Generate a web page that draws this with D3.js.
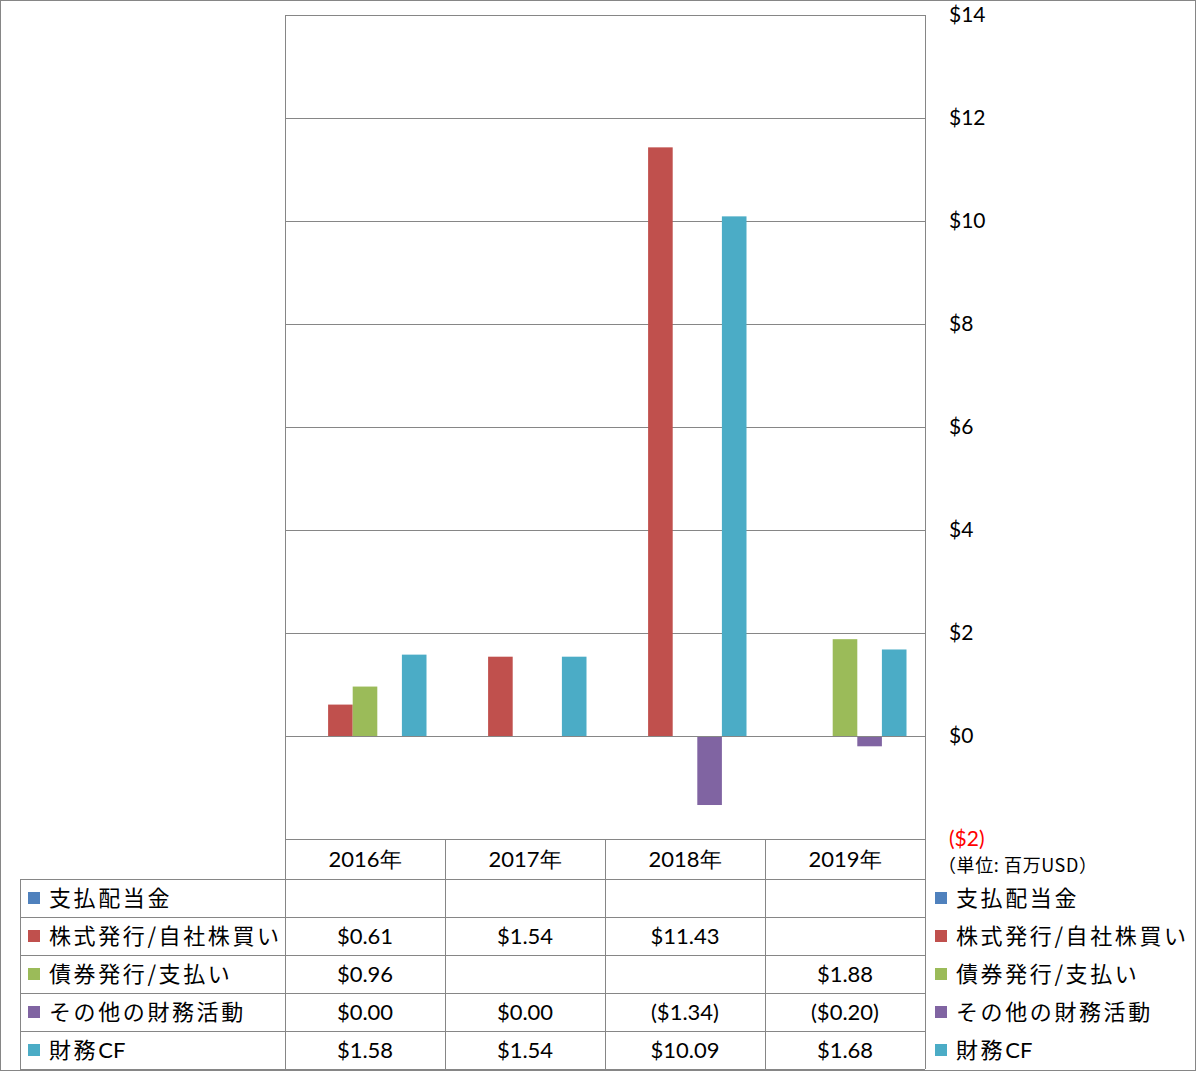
<!DOCTYPE html>
<html><head><meta charset="utf-8">
<script src="https://cdn.jsdelivr.net/npm/d3@7"></script>
<style>
html,body{margin:0;padding:0;background:#fff;}
svg{display:block;}
</style></head>
<body>
<svg id="c" width="1196" height="1071"></svg>
<script>
const years = ["2016年","2017年","2018年","2019年"];
const seriesNames = ["支払配当金","株式発行/自社株買い","債券発行/支払い","その他の財務活動","財務CF"];
const seriesColors = ["#4F81BD","#C0504D","#9BBB59","#8064A2","#4BACC6"];
const dividends = [null,null,null,null];
const equity = [0.61,1.54,11.43,null];
const debt = [0.96,null,null,1.88];
const other = [0.00,0.00,-1.34,-0.20];
const financingCF = [1.58,1.54,10.09,1.68];
const yTicks = [-2,0,2,4,6,8,10,12,14];
const unitLabel = "（単位: 百万USD）";

const seriesValues = [dividends,equity,debt,other,financingCF];

const svg = d3.select("#c");
const latin = "Lato, 'Open Sans', sans-serif";
const cjk = "'Noto Sans CJK JP', sans-serif";
const gridCol = "#868686";

const plotL = 285, plotR = 925, plotT = 15, plotB = 839;
const x0 = d3.scaleBand().domain(years).range([plotL, plotR]).padding(0);
const x1 = d3.scaleBand().domain(seriesNames).range([18.5, x0.bandwidth()-18.5]).padding(0);
const y = d3.scaleLinear().domain([-2,14]).range([plotB, plotT]);

// outer border
svg.append("rect").attr("x",0.5).attr("y",0.5).attr("width",1195).attr("height",1070)
  .attr("fill","none").attr("stroke",gridCol);

// gridlines
svg.append("g").selectAll("line").data(yTicks).join("line")
  .attr("x1",plotL).attr("x2",plotR)
  .attr("y1",d=>Math.round(y(d))+0.5).attr("y2",d=>Math.round(y(d))+0.5)
  .attr("stroke",gridCol).attr("stroke-width",1);

// bars
const fmt = v => v < 0 ? "($" + Math.abs(v).toFixed(2) + ")" : "$" + v.toFixed(2);
const barG = svg.append("g");
seriesNames.forEach((s,si)=>{
  barG.append("g").attr("fill",seriesColors[si]).selectAll("rect")
    .data(seriesValues[si].map((v,i)=>({v, yr:years[i]})).filter(d=>d.v!==null && d.v!==0))
    .join("rect")
    .attr("x",d=>x0(d.yr)+x1(s))
    .attr("width",x1.bandwidth())
    .attr("y",d=>y(Math.max(0,d.v)))
    .attr("height",d=>Math.abs(y(d.v)-y(0)));
});
// zero line over bars
svg.append("line").attr("x1",plotL).attr("x2",plotR)
  .attr("y1",Math.round(y(0))+0.5).attr("y2",Math.round(y(0))+0.5)
  .attr("stroke",gridCol);

// right axis
const axis = d3.axisRight(y).tickValues(yTicks).tickSize(0).tickPadding(24)
  .tickFormat(d => d<0 ? "($"+Math.abs(d)+")" : "$"+d);
const ag = svg.append("g").attr("transform",`translate(${plotR},0)`).call(axis);
ag.select(".domain").remove();
ag.selectAll("text").attr("font-family",latin).attr("font-size",21)
  .attr("fill",d=>d<0?"#FF0000":"#000");

// unit label
svg.append("text").attr("x",938).attr("y",866).attr("dy","0.35em")
  .attr("font-family",cjk).attr("font-size",18).attr("letter-spacing",0.6).attr("fill","#000").text(unitLabel);

// table lines
const rowH = 38;
const tableTop = 879;
const tl = svg.append("g").attr("stroke",gridCol).attr("stroke-width",1);
[plotL, plotR].forEach(xv=>{
  tl.append("line").attr("x1",xv+0.5).attr("x2",xv+0.5).attr("y1",plotT).attr("y2",tableTop+rowH*5);
});
years.slice(1).forEach(yr=>{
  const xv = x0(yr);
  tl.append("line").attr("x1",xv+0.5).attr("x2",xv+0.5).attr("y1",plotB).attr("y2",tableTop+rowH*5);
});
tl.append("line").attr("x1",20.5).attr("x2",20.5).attr("y1",tableTop).attr("y2",tableTop+rowH*5);
for(let r=0;r<=5;r++){
  const yy = tableTop + rowH*r + 0.5;
  tl.append("line").attr("x1",20).attr("x2",plotR).attr("y1",yy).attr("y2",yy);
}

// header
svg.append("g").selectAll("text").data(years).join("text")
  .attr("x",d=>x0(d)+x0.bandwidth()/2).attr("y",(plotB+tableTop)/2).attr("dy","0.35em")
  .attr("text-anchor","middle").attr("font-family",latin).attr("font-size",22).text(d=>d);

// legend text helper: spacing on CJK runs, tight on Latin runs
function legendText(x, cy, s){
  const t = svg.append("text").attr("x",x).attr("y",cy).attr("dy","0.35em")
    .attr("font-family",cjk).attr("font-size",22);
  const runs = s.match(/[A-Za-z]+|[^A-Za-z]+/g);
  runs.forEach(r=>{
    const latinRun = /^[A-Za-z]+$/.test(r);
    t.append("tspan").attr("letter-spacing", latinRun ? 0 : 2.6)
      .attr("font-family", latinRun ? latin : cjk).text(r);
  });
}

// rows
seriesNames.forEach((s,si)=>{
  const cy = tableTop + rowH*si + rowH/2;
  svg.append("rect").attr("x",28).attr("y",cy-6).attr("width",12).attr("height",12).attr("fill",seriesColors[si]);
  legendText(49, cy, s);
  svg.append("rect").attr("x",935).attr("y",cy-6).attr("width",12).attr("height",12).attr("fill",seriesColors[si]);
  legendText(956, cy, s);
  svg.append("g").selectAll("text")
    .data(seriesValues[si].map((v,i)=>({v,yr:years[i]})).filter(d=>d.v!==null))
    .join("text")
    .attr("x",d=>x0(d.yr)+x0.bandwidth()/2).attr("y",cy).attr("dy","0.35em")
    .attr("text-anchor","middle").attr("font-family",latin).attr("font-size",22)
    .text(d=>fmt(d.v));
});
</script>
</body></html>
